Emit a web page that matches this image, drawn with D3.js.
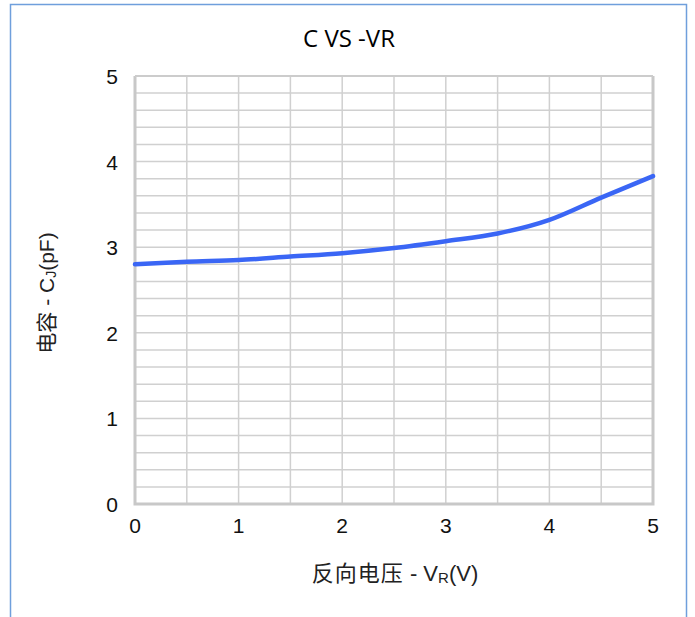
<!DOCTYPE html>
<html><head><meta charset="utf-8">
<script src="https://cdn.jsdelivr.net/npm/d3@7"></script>
<style>body{margin:0;background:#fff}svg{display:block}</style>
</head><body>
<svg id="c" width="695" height="617"></svg>
<script>
const xValues = [0, 0.5, 1, 1.5, 2, 2.5, 3, 3.5, 4, 4.5, 5];
const cValues = [2.80, 2.83, 2.85, 2.89, 2.93, 2.99, 3.07, 3.16, 3.32, 3.58, 3.83];
const xTicks = [0, 1, 2, 3, 4, 5];
const yTicks = [0, 1, 2, 3, 4, 5];
const title = "C VS -VR";

const svg = d3.select("#c");
const L = 135, R = 653, T = 76, B = 504;
const x = d3.scaleLinear().domain([0, 5]).range([L, R]);
const y = d3.scaleLinear().domain([0, 5]).range([B, T]);

// outer frame
svg.append("path").attr("d", "M10.5,640 V4.5 H686.5 V640")
  .attr("fill", "none").attr("stroke", "#6f9fdc").attr("stroke-width", 1.5);

// grid
const g = svg.append("g");
g.selectAll(".h").data(d3.range(0, 5.0001, 0.2)).join("line")
  .attr("x1", L).attr("x2", R).attr("y1", d => y(d)).attr("y2", d => y(d))
  .attr("stroke", "#d0d0d0").attr("stroke-width", 1.5);
g.selectAll(".v").data(d3.range(0, 5.0001, 0.5)).join("line")
  .attr("y1", T).attr("y2", B).attr("x1", d => x(d)).attr("x2", d => x(d))
  .attr("stroke", "#d0d0d0").attr("stroke-width", 1.5);
// frame of plot
svg.append("path").attr("d", `M${L},${T} V${B} H${R} V${T}`)
  .attr("fill", "none").attr("stroke", "#c8c8c8").attr("stroke-width", 3);
svg.append("line").attr("x1", L).attr("x2", R).attr("y1", T).attr("y2", T)
  .attr("stroke", "#cccccc").attr("stroke-width", 2);

// curve
const line = d3.line().x((d, i) => x(xValues[i])).y(d => y(d)).curve(d3.curveMonotoneX);
svg.append("path").datum(cValues).attr("d", line)
  .attr("fill", "none").attr("stroke", "#3a66f5").attr("stroke-width", 4.5).attr("stroke-linecap", "round");

// axes labels
const font = "'Liberation Sans', Arial, sans-serif";
const cjk = "'Noto Sans CJK SC', sans-serif";
svg.selectAll(".yt").data(yTicks).join("text")
  .attr("x", 118).attr("y", d => y(d) + 8).attr("text-anchor", "end")
  .attr("font-family", font).attr("font-size", 21).attr("fill", "#111").text(d => d);
svg.selectAll(".xt").data(xTicks).join("text")
  .attr("x", d => x(d)).attr("y", 533).attr("text-anchor", "middle")
  .attr("font-family", font).attr("font-size", 21).attr("fill", "#111").text(d => d);

svg.append("text").attr("x", 349).attr("y", 47).attr("text-anchor", "middle")
  .attr("font-family", "'Open Sans', sans-serif").attr("font-size", 24).attr("fill", "#000").text(title);

const xl = svg.append("text").attr("x", 395).attr("y", 581).attr("text-anchor", "middle")
  .attr("font-family", font).attr("font-size", 22).attr("fill", "#222");
xl.append("tspan").attr("font-family", cjk).attr("letter-spacing", 1).text("反向电压");
xl.append("tspan").text(" - V");
xl.append("tspan").attr("font-size", 15).attr("dy", 2).text("R");
xl.append("tspan").attr("dy", -2).text("(V)");

const yl = svg.append("text").attr("transform", "translate(54,293) rotate(-90)").attr("text-anchor", "middle")
  .attr("font-family", font).attr("font-size", 21).attr("fill", "#222");
yl.append("tspan").attr("font-family", cjk).text("电容");
yl.append("tspan").text(" - C");
yl.append("tspan").attr("font-size", 14).attr("dy", 2).text("J");
yl.append("tspan").attr("dy", -2).text("(pF)");
</script>
</body></html>
